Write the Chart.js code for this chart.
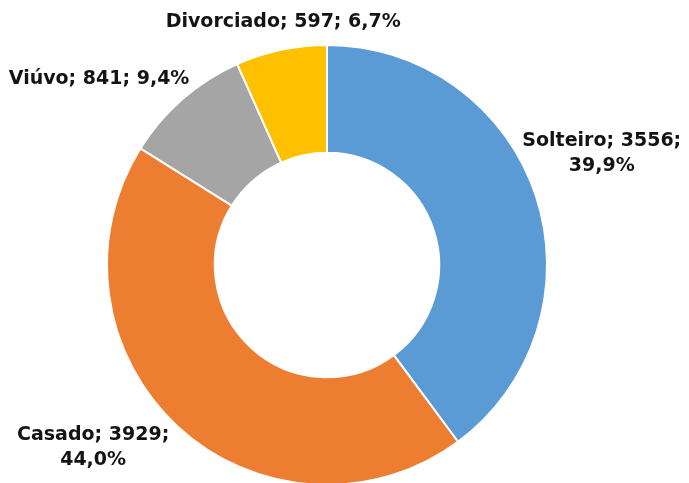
<!DOCTYPE html>
<html>
<head>
<meta charset="utf-8">
<script src="https://cdn.jsdelivr.net/npm/chart.js@4/dist/chart.umd.min.js"></script>
<style>
  html, body { margin: 0; padding: 0; background: #ffffff; overflow: hidden; }
  #wrap { width: 689px; height: 483px; overflow: hidden; }
  canvas { display: block; }
</style>
</head>
<body>
<div id="wrap"><canvas id="c" width="689" height="486"></canvas></div>
<script>
const categories = ["Solteiro", "Casado", "Viúvo", "Divorciado"];
const counts = [3556, 3929, 841, 597];
const percentLabels = ["39,9%", "44,0%", "9,4%", "6,7%"];
const sliceColors = ["#5B9BD5", "#ED7D31", "#A5A5A5", "#FFC000"];

// label layout: lines per label and anchor relative to center in units of outer radius
const labelLayout = [
  { lines: (i) => [categories[i] + "; " + counts[i] + ";", percentLabels[i]], fx: 1.249, fy: -0.505 },
  { lines: (i) => [categories[i] + "; " + counts[i] + ";", percentLabels[i]], fx: -1.063, fy: 0.828 },
  { lines: (i) => [categories[i] + "; " + counts[i] + "; " + percentLabels[i]], fx: -1.036, fy: -0.846 },
  { lines: (i) => [categories[i] + "; " + counts[i] + "; " + percentLabels[i]], fx: -0.199, fy: -1.104 }
];

const labelPlugin = {
  id: "sliceLabels",
  afterDatasetsDraw(chart) {
    const ctx = chart.ctx;
    const meta = chart.getDatasetMeta(0);
    ctx.save();
    ctx.font = "bold 19px 'DejaVu Sans', sans-serif";
    ctx.fillStyle = "#141414";
    ctx.textAlign = "center";
    ctx.textBaseline = "middle";
    const lineH = 25;
    meta.data.forEach((arc, i) => {
      const r = arc.outerRadius;
      const cx = arc.x + labelLayout[i].fx * r;
      const cy = arc.y + labelLayout[i].fy * r;
      const lines = labelLayout[i].lines(i);
      const y0 = cy - (lines.length - 1) * lineH / 2;
      lines.forEach((t, k) => ctx.fillText(t, cx, y0 + k * lineH));
    });
    ctx.restore();
  }
};

new Chart(document.getElementById("c"), {
  type: "doughnut",
  data: {
    labels: categories,
    datasets: [{
      data: counts,
      backgroundColor: sliceColors,
      borderColor: "#ffffff",
      borderWidth: 2,
      hoverOffset: 0
    }]
  },
  options: {
    responsive: false,
    devicePixelRatio: 1,
    animation: false,
    cutout: "51%",
    layout: { padding: { top: 44, bottom: 0, left: 0, right: 35 } },
    plugins: { legend: { display: false }, tooltip: { enabled: false } }
  },
  plugins: [labelPlugin]
});
</script>
</body>
</html>
